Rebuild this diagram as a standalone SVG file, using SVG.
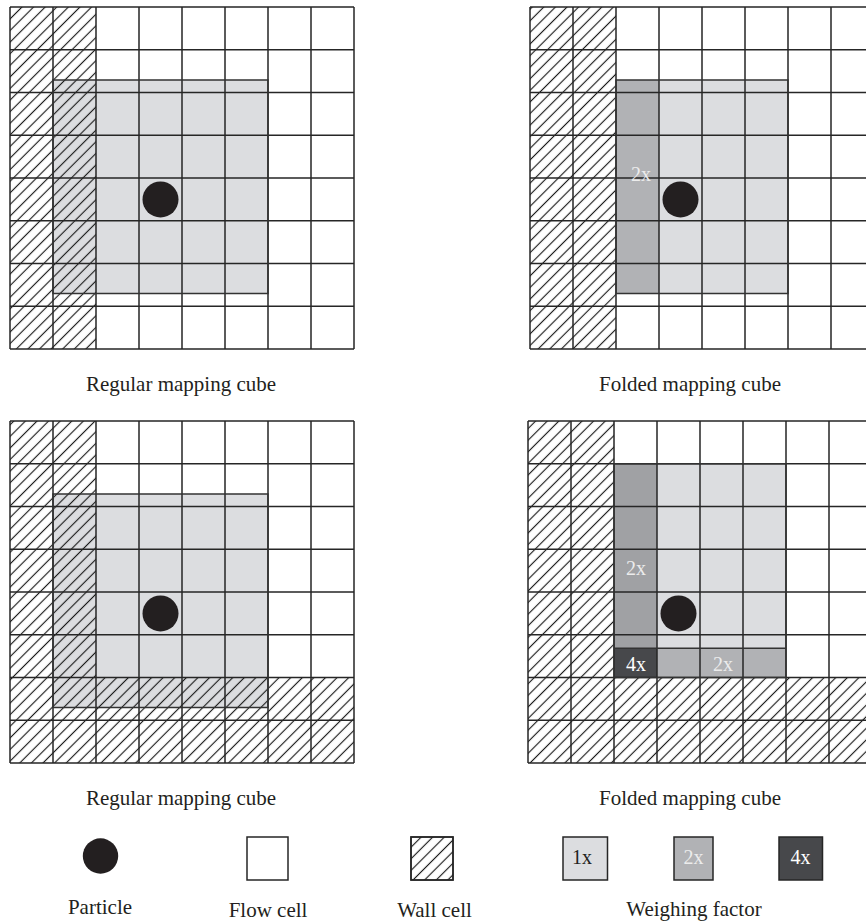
<svg xmlns="http://www.w3.org/2000/svg" width="866" height="921" viewBox="0 0 866 921">
<style>
.bg{fill:#ffffff}
.grid{fill:none;stroke:#262626;stroke-width:1.5}
.outline{fill:none;stroke:#333333;stroke-width:1.5}
.g1{fill:#dcdde0}
.g2{fill:#b1b2b5}
.g2b{fill:#a0a1a4}
.g4{fill:#47484b}
.wall{fill:url(#hatch)}
.particle{fill:#231f20}
.txt{font-family:"Liberation Serif","Times New Roman",serif;font-size:21px;fill:#231f20;text-anchor:middle}
.lbl{font-family:"Liberation Serif","Times New Roman",serif;font-size:20px;text-anchor:middle}
.lw{fill:#ffffff}
.lw2{fill:#ececec}
.ld{fill:#231f20}
.box{stroke:#262626;stroke-width:1.5}
</style>
<defs>
<pattern id="hatch" patternUnits="userSpaceOnUse" width="8.2" height="10" patternTransform="rotate(45)">
<line x1="4.1" y1="-1" x2="4.1" y2="11" stroke="#1a1a1a" stroke-width="1.15"/>
</pattern>
</defs>
<rect class="bg" x="0" y="0" width="866" height="921"/>

<g id="panel-top-left">
<rect class="g1" x="53" y="80" width="215" height="213.5"/>
<rect class="wall" x="10" y="7" width="86" height="342"/>
<path class="grid" d="M10 7V349M53 7V349M96 7V349M139 7V349M182 7V349M225 7V349M268 7V349M311 7V349M354 7V349M10 7H354M10 49.75H354M10 92.5H354M10 135.25H354M10 178H354M10 220.75H354M10 263.5H354M10 306.25H354M10 349H354"/>
<rect class="outline" x="53" y="80" width="215" height="213.5"/>
<circle class="particle" cx="160.5" cy="199.4" r="18"/>
<text class="txt" x="181" y="391">Regular mapping cube</text>
</g>

<g id="panel-top-right">
<rect class="g2" x="616" y="80" width="43" height="213.5"/>
<rect class="g1" x="659" y="80" width="129" height="213.5"/>
<rect class="wall" x="530" y="7" width="86" height="342"/>
<path class="grid" d="M530 7V349M573 7V349M616 7V349M659 7V349M702 7V349M745 7V349M788 7V349M831 7V349M874 7V349M530 7H874M530 49.75H874M530 92.5H874M530 135.25H874M530 178H874M530 220.75H874M530 263.5H874M530 306.25H874M530 349H874"/>
<rect class="outline" x="616" y="80" width="172" height="213.5"/>
<circle class="particle" cx="680.5" cy="199.4" r="18"/>
<text class="lbl lw2" x="641" y="181">2x</text>
<text class="txt" x="690" y="391">Folded mapping cube</text>
</g>

<g id="panel-bottom-left">
<rect class="g1" x="53" y="494" width="215" height="213.5"/>
<rect class="wall" x="10" y="421" width="86" height="342"/>
<rect class="wall" x="96" y="677.5" width="258" height="85.5"/>
<path class="grid" d="M10 421V763M53 421V763M96 421V763M139 421V763M182 421V763M225 421V763M268 421V763M311 421V763M354 421V763M10 421H354M10 463.75H354M10 506.5H354M10 549.25H354M10 592H354M10 634.75H354M10 677.5H354M10 720.25H354M10 763H354"/>
<rect class="outline" x="53" y="494" width="215" height="213.5"/>
<circle class="particle" cx="160.5" cy="613.4" r="18"/>
<text class="txt" x="181" y="805">Regular mapping cube</text>
</g>

<g id="panel-bottom-right">
<rect class="g2b" x="614" y="463.75" width="43" height="184.5"/>
<rect class="g1" x="657" y="463.75" width="129" height="184.5"/>
<rect class="g4" x="614" y="648.25" width="43" height="29.25"/>
<rect class="g2" x="657" y="648.25" width="129" height="29.25"/>
<rect class="wall" x="528" y="421" width="86" height="342"/>
<rect class="wall" x="614" y="677.5" width="258" height="85.5"/>
<path class="grid" d="M528 421V763M571 421V763M614 421V763M657 421V763M700 421V763M743 421V763M786 421V763M829 421V763M872 421V763M528 421H872M528 463.75H872M528 506.5H872M528 549.25H872M528 592H872M528 634.75H872M528 677.5H872M528 720.25H872M528 763H872"/>
<rect class="outline" x="614" y="463.75" width="172" height="213.75"/>
<path class="outline" d="M614 648.25H786"/>
<circle class="particle" cx="678.5" cy="613.4" r="18"/>
<text class="lbl lw2" x="636" y="575">2x</text>
<text class="lbl lw" x="636" y="671">4x</text>
<text class="lbl lw2" x="723" y="671">2x</text>
<text class="txt" x="690" y="805">Folded mapping cube</text>
</g>

<g id="legend-particle">
<circle class="particle" cx="100.5" cy="856" r="17.7"/>
<text class="txt" x="100" y="914">Particle</text>
</g>
<g id="legend-flow">
<rect class="box" fill="#ffffff" x="247" y="837" width="41" height="43"/>
<text class="txt" x="268" y="917">Flow cell</text>
</g>
<g id="legend-wall">
<rect class="box" fill="#ffffff" x="411" y="837" width="42" height="43"/>
<rect class="wall" x="411" y="837" width="42" height="43"/>
<rect class="box" fill="none" x="411" y="837" width="42" height="43"/>
<text class="txt" x="434.5" y="917">Wall cell</text>
</g>
<g id="legend-weights">
<rect class="box g1" x="563" y="837" width="44.5" height="43"/>
<text class="lbl ld" x="582" y="864">1x</text>
<rect class="box g2" x="674" y="837" width="39" height="43"/>
<text class="lbl lw2" x="693.5" y="864">2x</text>
<rect class="box g4" x="779" y="837" width="43.5" height="43"/>
<text class="lbl lw" x="800.5" y="864">4x</text>
<text class="txt" x="694" y="916">Weighing factor</text>
</g>
</svg>
